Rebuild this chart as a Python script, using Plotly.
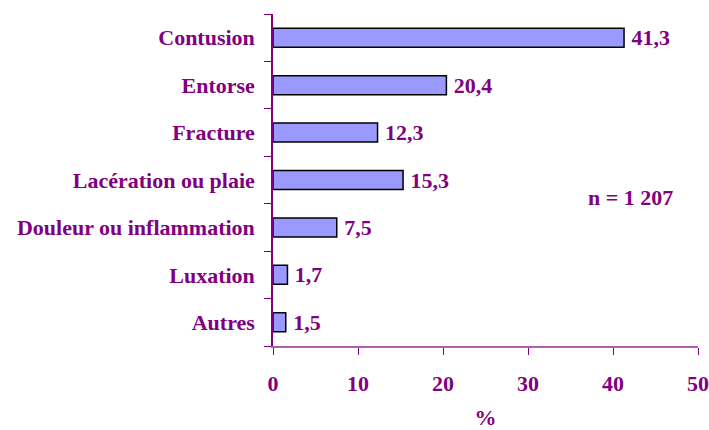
import plotly.graph_objects as go

categories = ["Contusion", "Entorse", "Fracture", "Lacération ou plaie",
              "Douleur ou inflammation", "Luxation", "Autres"]
values = [41.3, 20.4, 12.3, 15.3, 7.5, 1.7, 1.5]
x_ticks = [0, 10, 20, 30, 40, 50]
n_label = "n = 1 207"
x_title = "%"

PURPLE = "#800080"
FONT = "Liberation Serif, Times New Roman, serif"

text_labels = ["\u2009" + f"{v:.1f}".replace(".", ",") for v in values]

fig = go.Figure(go.Bar(
    x=values,
    y=categories,
    orientation="h",
    marker=dict(color="#9999FF", line=dict(color="#000000", width=1.5)),
    text=text_labels,
    textposition="outside",
    textfont=dict(family=FONT, size=22, color=PURPLE, weight="bold"),
    constraintext="none",
    cliponaxis=False,
    width=0.4,
))

fig.update_layout(
    width=709, height=430,
    margin=dict(l=273, r=11, t=14, b=84, autoexpand=False),
    paper_bgcolor="white", plot_bgcolor="white",
    font=dict(family=FONT, size=22, color=PURPLE, weight="bold"),
    showlegend=False,
    xaxis=dict(
        range=[0, 50], tickvals=x_ticks, showgrid=False, zeroline=False,
        automargin=False,
        showline=True, linecolor="#B060B0", linewidth=2,
        ticks="outside", ticklen=7, tickcolor=PURPLE, tickwidth=1,
        tickfont=dict(family=FONT, size=22, color=PURPLE, weight="bold"),
        ticklabelstandoff=10,
        title=dict(text=x_title, font=dict(family=FONT, size=22, color=PURPLE, weight="bold"), standoff=21),
    ),
    yaxis=dict(
        categoryorder="array", categoryarray=categories[::-1],
        showgrid=False, zeroline=False, automargin=False,
        showline=True, linecolor=PURPLE, linewidth=1.5,
        ticks="outside", ticklen=7, tickcolor=PURPLE, tickson="boundaries",
        tickfont=dict(family=FONT, size=22, color=PURPLE, weight="bold"),
        ticklabelstandoff=12,
    ),
    annotations=[dict(
        text=n_label, x=0.946, y=0.446, xref="paper", yref="paper",
        xanchor="right", yanchor="middle", showarrow=False,
        font=dict(family=FONT, size=22, color=PURPLE, weight="bold"),
    )],
)

fig.write_html(
    "out.html",
    config={"displayModeBar": False},
    post_script="document.body.style.margin='0';document.body.style.overflow='hidden';",
)
